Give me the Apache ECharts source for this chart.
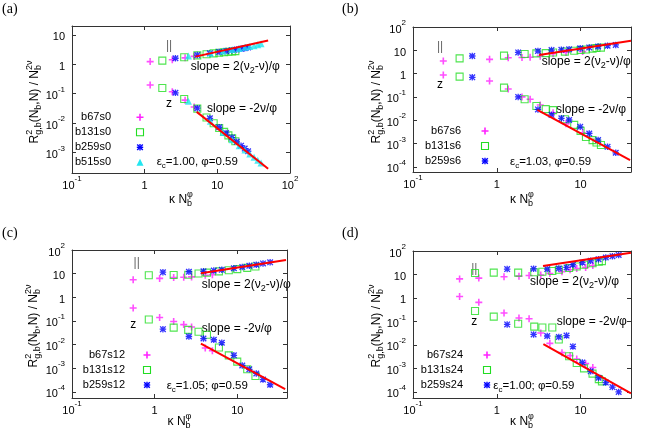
<!DOCTYPE html>
<html>
<head>
<meta charset="utf-8">
<script src="https://cdn.jsdelivr.net/npm/echarts@6/dist/echarts.min.js"></script>
<style>
  html, body { margin: 0; background: #fff; }
  #chart { width: 649px; height: 447px; }
</style>
</head>
<body>
<div id="chart"></div>
<script>
// ---- data (x = kappa*Nb^phi, y upper = parallel branch, y lower = z branch)
// panel (a)
const a_b67_x = [1.19, 2.4, 3.6, 4.8]
const a_b67_up = [1.23, 1.42, 1.65, 1.85]
const a_b67_lo = [0.197, 0.116, 0.06, 0.035]
const a_b131_x = [1.75, 3.5, 5.3, 7.1, 8.9, 10.6, 12.4, 14.2, 16, 17.7]
const a_b131_up = [1.33, 1.74, 2.0, 2.2, 2.35, 2.45, 2.55, 2.65, 2.7, 2.8]
const a_b131_lo = [0.155, 0.066, 0.031, 0.0155, 0.0098, 0.0068, 0.005, 0.0038, 0.003, 0.0024]
const a_b259_x = [2.65, 5.3, 7.9, 10.6, 13.2, 15.9, 18.5, 21.2, 23.8, 26.5]
const a_b259_up = [1.6, 2.05, 2.35, 2.6, 2.8, 3.0, 3.2, 3.35, 3.5, 3.7]
const a_b259_lo = [0.107, 0.032, 0.0145, 0.0072, 0.0046, 0.0032, 0.0023, 0.0017, 0.00135, 0.0011]
const a_b515_x = [4.0, 8.0, 12, 16, 20, 24, 28, 32, 36, 40]
const a_b515_up = [1.9, 2.4, 2.8, 3.15, 3.45, 3.75, 4.0, 4.3, 4.6, 5.0]
const a_b515_lo = [0.055, 0.0115, 0.0048, 0.0027, 0.0017, 0.0012, 0.00088, 0.00068, 0.00054, 0.00044]
const a_fitUp_x = [5, 50], a_fitUp_y = [1.82, 6.4]
const a_fitLo_x = [5.2, 50], a_fitLo_y = [0.024, 0.00028]

// panel (b)
const b_b67_x = [0.23, 0.82, 1.37, 2.0, 2.5, 3.3, 4.7, 6.7, 10.6]
const b_b67_up = [3.5, 4.1, 4.8, 4.9, 5.0, 5.6, 7.2, 8.0, 8.8]
const b_b67_lo = [0.87, 0.48, 0.22, 0.1, 0.079, 0.045, 0.021, 0.007, 0.0029]
const b_b131_x = [0.36, 1.22, 2.15, 2.97, 3.84, 4.7, 6.5, 8.4, 10, 11.6, 13.9, 15.5, 17.5]
const b_b131_up = [4.5, 5.9, 6.9, 7.4, 7.6, 8.0, 8.8, 9.6, 10.3, 10.8, 11.8, 12.5, 13.0]
const b_b131_lo = [0.74, 0.25, 0.079, 0.041, 0.03, 0.027, 0.011, 0.0063, 0.0035, 0.0019, 0.0014, 0.0011, 0.00087]
const b_b259_x = [0.51, 1.8, 3.1, 4.5, 5.9, 7.3, 9.9, 12.7, 16.2, 21, 26.3]
const b_b259_up = [5.7, 8.1, 9.3, 10.2, 10.5, 11, 12.2, 13.3, 14.5, 15.8, 17]
const b_b259_lo = [0.69, 0.1, 0.029, 0.017, 0.012, 0.0102, 0.0052, 0.0027, 0.0014, 0.00072, 0.0004]
const b_fitUp_x = [3.2, 40], b_fitUp_y = [6.3, 25.8]
const b_fitLo_x = [3.05, 39], b_fitLo_y = [0.0275, 0.000195]

// panel (c)
const c_b67_x = [0.55, 1.15, 1.7, 2.25, 2.8, 4.1, 5.0]
const c_b67_up = [5.5, 6.3, 6.8, 7.0, 7.3, 8.5, 9.0]
const c_b67_lo = [0.35, 0.14, 0.095, 0.07, 0.055, 0.0072, 0.0055]
const c_b131_x = [0.85, 1.7, 2.55, 3.4, 4.3, 6.0, 7.9, 10, 13.2, 16.6]
const c_b131_up = [8.5, 8.8, 9.0, 10.2, 11, 12.5, 14, 15.5, 17.5, 20]
const c_b131_lo = [0.115, 0.052, 0.042, 0.035, 0.026, 0.0075, 0.0035, 0.0019, 0.0009, 0.00047]
const c_b259_x = [1.26, 2.6, 3.9, 5.2, 6.5, 9.1, 11.5, 14, 17, 20.5, 25]
const c_b259_up = [11.5, 12, 12.5, 13.5, 14.5, 17, 19, 21.5, 24, 27, 30]
const c_b259_lo = [0.045, 0.022, 0.018, 0.016, 0.012, 0.0035, 0.0013, 0.0009, 0.0006, 0.00033, 0.0002]
const c_fitUp_x = [3.63, 38.9], c_fitUp_y = [10.3, 37.7]
const c_fitLo_x = [3.63, 38], c_fitLo_y = [0.011, 0.00013]

// panel (d)
const d_b67_x = [0.36, 0.61, 1.22, 1.84, 2.43, 3.35, 4.3, 6.0, 7.5, 9, 11.5, 14]
const d_b67_up = [6.5, 7.0, 8.0, 8.5, 9.0, 9.5, 11, 13, 16, 18, 20, 24]
const d_b67_lo = [1.15, 0.65, 0.23, 0.14, 0.13, 0.032, 0.0117, 0.0047, 0.0035, 0.0025, 0.0016, 0.0011]
const d_b131_x = [0.55, 0.92, 1.8, 2.8, 3.5, 4.6, 5.5, 7.3, 9.0, 11, 13.9, 16.5, 18]
const d_b131_up = [11.5, 12, 12, 12.5, 13, 14, 16, 19, 22, 26, 30, 35, 37]
const d_b131_lo = [0.28, 0.16, 0.08, 0.06, 0.055, 0.055, 0.017, 0.0033, 0.0017, 0.001, 0.0006, 0.00035, 0.00028]
const d_b259_x = [1.33, 2.75, 4.0, 5.5, 6.8, 8.1, 10.5, 13.2, 16.4, 20, 24, 28.5]
const d_b259_up = [17, 17.5, 17, 18, 20, 26, 32, 38, 45, 53, 60, 68]
const d_b259_lo = [0.075, 0.028, 0.024, 0.022, 0.025, 0.0085, 0.0018, 0.00075, 0.0004, 0.00025, 0.00016, 0.0001]
const d_fitUp_x = [3.56, 40], d_fitUp_y = [23, 85]
const d_fitLo_x = [3.6, 40], d_fitLo_y = [0.0107, 0.000087]

const xRanges = [[0.1, 100], [0.1, 40], [0.1, 40], [0.1, 40]]
const yRanges = [[2e-4, 20], [6e-5, 100], [5.5e-5, 100], [5.5e-5, 100]]

// ---- styles
const FONT = '"Liberation Sans", Arial, sans-serif'
const AXIS = '#333'
const PLUS = 'path://M2.7,0H4.3V2.7H7V4.3H4.3V7H2.7V4.3H0V2.7H2.7Z'
const STAR = 'path://M2.8,0H4.2V7H2.8Z M0,2.8H7V4.2H0Z M1,0L7,6L6,7L0,1Z M6,0L7,1L1,7L0,6Z'
const COLORS = { b67: '#ff22ff', b131: '#22dd22', b259: '#0000ff', b515: '#22e6f0' }
const mark = {
  b67: { symbol: PLUS, symbolSize: 7, itemStyle: { color: COLORS.b67 } },
  b131: { symbol: 'rect', symbolSize: 7, itemStyle: { color: 'rgba(0,0,0,0)', borderColor: COLORS.b131, borderWidth: 1.1 } },
  b259: { symbol: STAR, symbolSize: 6.5, itemStyle: { color: COLORS.b259 } },
  b515: { symbol: 'triangle', symbolSize: 7, itemStyle: { color: COLORS.b515 } }
}

function pairs (xs, ys) {
  return xs.map((x, i) => [x, ys[i]])
}

function decade (v) {
  const l = Math.log10(v)
  const e = Math.round(l)
  if (Math.abs(l - e) > 1e-6) return ''
  if (e === 0) return '{b|1}'
  if (e === 1) return '{b|10}'
  return '{b|10}{s|' + e + '}'
}
const tickRich = {
  b: { fontSize: 11, fontFamily: FONT, color: '#000', verticalAlign: 'bottom', lineHeight: 16 },
  s: { fontSize: 8, fontFamily: FONT, color: '#000', verticalAlign: 'top', lineHeight: 9 }
}

const grids = [
  { left: 72, top: 26, width: 218, height: 147 },
  { left: 413, top: 27, width: 218, height: 145 },
  { left: 72, top: 250, width: 215, height: 148 },
  { left: 413, top: 251, width: 218, height: 147 }
]

const xAxis = []
const yAxis = []
grids.forEach((g, p) => {
  const line = { show: true, lineStyle: { color: AXIS, width: 1 } }
  const tick = { show: true, inside: true, length: 4, lineStyle: { color: AXIS } }
  xAxis.push({ type: 'log', gridIndex: p, position: 'bottom', min: xRanges[p][0], max: xRanges[p][1], axisLine: line, axisTick: tick, splitLine: { show: false }, axisLabel: { formatter: decade, margin: 2, rich: tickRich } })
  xAxis.push({ type: 'log', gridIndex: p, position: 'top', min: xRanges[p][0], max: xRanges[p][1], axisLine: line, axisTick: tick, splitLine: { show: false }, axisLabel: { show: false } })
  yAxis.push({ type: 'log', gridIndex: p, position: 'left', min: yRanges[p][0], max: yRanges[p][1], axisLine: line, axisTick: tick, splitLine: { show: false }, axisLabel: { formatter: decade, margin: 7, rich: tickRich } })
  yAxis.push({ type: 'log', gridIndex: p, position: 'right', min: yRanges[p][0], max: yRanges[p][1], axisLine: line, axisTick: tick, splitLine: { show: false }, axisLabel: { show: false } })
})

const panels = [
  { tag: 's0', sets: [['b67', a_b67_x, a_b67_up, a_b67_lo], ['b131', a_b131_x, a_b131_up, a_b131_lo], ['b259', a_b259_x, a_b259_up, a_b259_lo], ['b515', a_b515_x, a_b515_up, a_b515_lo]], fits: [[a_fitUp_x, a_fitUp_y], [a_fitLo_x, a_fitLo_y]] },
  { tag: 's6', sets: [['b67', b_b67_x, b_b67_up, b_b67_lo], ['b131', b_b131_x, b_b131_up, b_b131_lo], ['b259', b_b259_x, b_b259_up, b_b259_lo]], fits: [[b_fitUp_x, b_fitUp_y], [b_fitLo_x, b_fitLo_y]] },
  { tag: 's12', sets: [['b67', c_b67_x, c_b67_up, c_b67_lo], ['b131', c_b131_x, c_b131_up, c_b131_lo], ['b259', c_b259_x, c_b259_up, c_b259_lo]], fits: [[c_fitUp_x, c_fitUp_y], [c_fitLo_x, c_fitLo_y]] },
  { tag: 's24', sets: [['b67', d_b67_x, d_b67_up, d_b67_lo], ['b131', d_b131_x, d_b131_up, d_b131_lo], ['b259', d_b259_x, d_b259_up, d_b259_lo]], fits: [[d_fitUp_x, d_fitUp_y], [d_fitLo_x, d_fitLo_y]] }
]

// key placement (gnuplot style, inside plot): text right edge, marker centre x, first row y
const keyPos = [[111, 140, 117.3], [461, 485, 131], [125, 147, 355], [463, 487, 355]]
const KEY_STEP = 15

// ---- text pieces with sub/superscripts
const meas = document.createElement('canvas').getContext('2d')
function tw (t, fs) {
  meas.font = fs + 'px ' + FONT
  return meas.measureText(t).width
}
function piece (t, x, y, fs, color, align) {
  return { type: 'text', x, y, style: { text: t, font: fs + 'px ' + FONT, fill: color || '#000', verticalAlign: 'middle', align: align || 'left' } }
}
function mathText (parts, fs, x, y, anchor, rotation, color) {
  const sm = Math.round(fs * 0.72)
  const kids = []
  let cx = 0
  parts.forEach(([t, k]) => {
    if (k === 'stack') {
      kids.push(piece(t[0], cx, -fs * 0.42, sm, color))
      kids.push(piece(t[1], cx, fs * 0.32, sm, color))
      cx += Math.max(tw(t[0], sm), tw(t[1], sm))
    } else {
      const s = k === 'n' ? fs : sm
      const dy = k === 'sub' ? fs * 0.32 : k === 'sup' ? -fs * 0.42 : 0
      kids.push(piece(t, cx, dy, s, color))
      cx += tw(t, s)
    }
  })
  const off = anchor === 'center' ? -cx / 2 : 0
  kids.forEach(k => { k.x += off })
  return { type: 'group', x, y, rotation: rotation || 0, silent: true, children: kids }
}
// key markers drawn as small shapes centred on (0,0)
function keyMarker (b, cx, cy) {
  let kids
  if (b === 'b67') {
    kids = [{ type: 'polygon', shape: { points: [[-0.8, -3.5], [0.8, -3.5], [0.8, -0.8], [3.5, -0.8], [3.5, 0.8], [0.8, 0.8], [0.8, 3.5], [-0.8, 3.5], [-0.8, 0.8], [-3.5, 0.8], [-3.5, -0.8], [-0.8, -0.8]] }, style: { fill: COLORS.b67 } }]
  } else if (b === 'b131') {
    kids = [{ type: 'rect', shape: { x: -3.5, y: -3.5, width: 7, height: 7 }, style: { fill: 'none', stroke: COLORS.b131, lineWidth: 1.1 } }]
  } else if (b === 'b259') {
    const ls = { stroke: COLORS.b259, lineWidth: 1.4 }
    kids = [
      { type: 'line', shape: { x1: -3.2, y1: 0, x2: 3.2, y2: 0 }, style: ls },
      { type: 'line', shape: { x1: 0, y1: -3.2, x2: 0, y2: 3.2 }, style: ls },
      { type: 'line', shape: { x1: -2.8, y1: -2.8, x2: 2.8, y2: 2.8 }, style: ls },
      { type: 'line', shape: { x1: -2.8, y1: 2.8, x2: 2.8, y2: -2.8 }, style: ls }
    ]
  } else {
    kids = [{ type: 'polygon', shape: { points: [[0, -3.5], [3.5, 3.5], [-3.5, 3.5]] }, style: { fill: COLORS.b515 } }]
  }
  return { type: 'group', x: cx, y: cy, silent: true, children: kids }
}

const series = []
const graphics = []
panels.forEach((pn, p) => {
  const [textRight, markX, rowY] = keyPos[p]
  pn.sets.forEach(([b, xs, up, lo], i) => {
    const name = b + pn.tag
    series.push(Object.assign({ type: 'scatter', name, xAxisIndex: 2 * p, yAxisIndex: 2 * p, data: pairs(xs, up).concat(pairs(xs, lo)) }, mark[b]))
    const y = rowY + i * KEY_STEP
    graphics.push(Object.assign(piece(name, textRight, y, 11, '#000', 'right'), { silent: true }))
    graphics.push(keyMarker(b, markX, y))
  })
  pn.fits.forEach(([fx, fy]) => {
    series.push({ type: 'line', xAxisIndex: 2 * p, yAxisIndex: 2 * p, data: pairs(fx, fy), symbol: 'none', lineStyle: { color: '#ff0000', width: 2 }, z: 5, silent: true })
  })
})

const slopeUp = [['slope = 2(ν', 'n'], ['2', 'sub'], ['-ν)/φ', 'n']]
const slopeLo = [['slope = -2ν/φ', 'n']]
const yTitle = [['R', 'n'], [['2', 'g,b'], 'stack'], ['(N', 'n'], ['b', 'sub'], [',N) / N', 'n'], [['2ν', 'b'], 'stack']]
const xTitle = [['κ N', 'n'], [['φ', 'b'], 'stack']]
const epsText = ['=1.00, φ=0.59', '=1.03, φ=0.59', '=1.05; φ=0.59', '=1.00; φ=0.59']
const tags = ['(a)', '(b)', '(c)', '(d)']

// per panel: tag, ||, z, slope up, slope low, eps, y title, x title
const place = [
  { tag: [2, 9], par: [169, 46], z: [169, 104], su: [190.7, 66.7], sl: [207, 109], eps: [156.7, 161.7], yt: [35, 102], xt: [181, 200] },
  { tag: [342, 9], par: [440, 47], z: [440, 84.3], su: [541.7, 61.7], sl: [556, 110], eps: [510, 161.7], yt: [377, 102], xt: [522, 200] },
  { tag: [2, 233], par: [136.7, 262.3], z: [133.3, 324.3], su: [201.7, 284.3], sl: [201.7, 329], eps: [166.7, 385.7], yt: [34, 326], xt: [179.5, 421.7] },
  { tag: [342, 233], par: [474.3, 268.3], z: [474.3, 321.7], su: [530, 281.7], sl: [556.7, 321.7], eps: [493.3, 385.7], yt: [377, 326], xt: [522, 421.7] }
]

place.forEach((q, p) => {
  graphics.push({ type: 'text', x: q.tag[0], y: q.tag[1], silent: true, style: { text: tags[p], font: '14px "Liberation Serif", serif', fill: '#000', verticalAlign: 'middle' } })
  graphics.push(mathText([['||', 'n']], 12, q.par[0], q.par[1], 'center', 0, '#666'))
  graphics.push(mathText([['z', 'n']], 12, q.z[0], q.z[1], 'center'))
  graphics.push(mathText(slopeUp, 12, q.su[0], q.su[1], 'left'))
  graphics.push(mathText(slopeLo, 12, q.sl[0], q.sl[1], 'left'))
  graphics.push(mathText([['ε', 'n'], ['c', 'sub'], [epsText[p], 'n']], 11.5, q.eps[0], q.eps[1], 'left'))
  graphics.push(mathText(yTitle, 12, q.yt[0], q.yt[1], 'center', Math.PI / 2))
  graphics.push(mathText(xTitle, 12, q.xt[0], q.xt[1], 'center'))
})

const chart = echarts.init(document.getElementById('chart'))
chart.setOption({
  animation: false,
  backgroundColor: '#fff',
  grid: grids,
  xAxis,
  yAxis,
  series,
  graphic: { elements: graphics }
})
</script>
</body>
</html>
